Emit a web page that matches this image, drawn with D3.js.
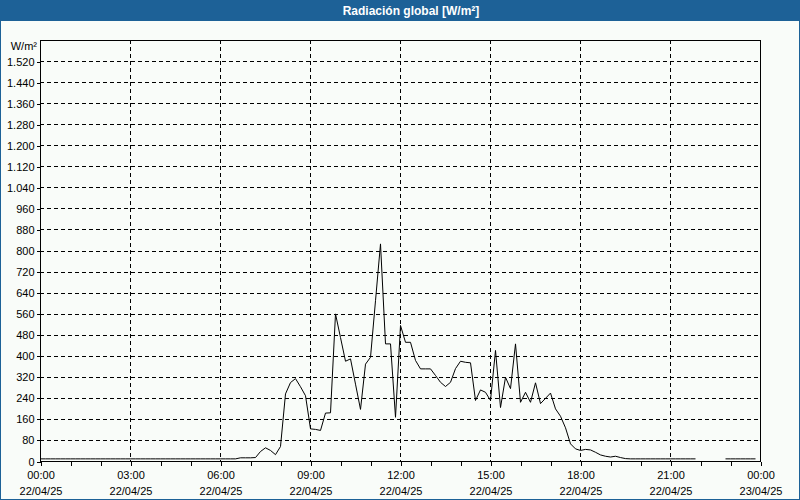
<!DOCTYPE html>
<html>
<head>
<meta charset="utf-8">
<script src="https://cdn.jsdelivr.net/npm/d3@7"></script>
<style>
  html, body { margin: 0; padding: 0; background: #f9fcf9; }
  svg { display: block; }
  text { font-family: "Liberation Sans", Arial, sans-serif; }
</style>
</head>
<body>
<svg id="chart" width="800" height="500"></svg>
<script>
// ---- Data ----
const chartTitle = "Radiación global [W/m²]";
const unitLabel = "W/m²";
const startTime = "2025-04-22T00:00:00";
const endTime = "2025-04-23T00:00:00";
const stepMinutes = 10;
// Global radiation, W/m², one value every 10 minutes (null = no data)
const radiation = [
  10, 10, 10, 10, 10, 10,   // 00:00
  10, 10, 10, 10, 10, 10,   // 01:00
  10, 10, 10, 10, 10, 10,   // 02:00
  10, 10, 10, 10, 10, 10,   // 03:00
  10, 10, 10, 10, 10, 10,   // 04:00
  10, 10, 10, 10, 10, 10,   // 05:00
  10, 10, 10, 10, 14, 14,   // 06:00
  14, 15, 38, 52, 42, 26,   // 07:00
  57, 257, 300, 315, 284, 250, // 08:00
  124, 122, 118, 184, 185, 561, // 09:00
  471, 381, 390, 294, 198, 370, // 10:00
  396, 611, 827, 447, 447, 168, // 11:00
  517, 453, 453, 384, 352, 352, // 12:00
  352, 327, 301, 285, 301, 353, // 13:00
  381, 377, 375, 232, 272, 263, // 14:00
  232, 422, 205, 320, 277, 447, // 15:00
  225, 263, 225, 299, 220, 240, // 16:00
  260, 200, 172, 128, 67, 48,   // 17:00
  42, 46, 44, 35, 25, 20,       // 18:00
  17, 20, 15, 11, 10, 10,       // 19:00
  10, 10, 10, 10, 10, 10,       // 20:00
  10, 10, 10, 10, 10, 10,       // 21:00
  null, null, null, null, null, 10, // 22:00
  10, 10, 10, 10, 10, 10        // 23:00
];
const yTickValues = [0, 80, 160, 240, 320, 400, 480, 560, 640, 720, 800, 880, 960,
  1040, 1120, 1200, 1280, 1360, 1440, 1520];
const yMax = 1600;
const xLabelHours = [0, 3, 6, 9, 12, 15, 18, 21, 24];

// ---- Layout ----
const W = 800, H = 500;
const mLeft = 40, mRight = 760, mTop = 40, mBottom = 461;
const blue = "#1d6197";

const svg = d3.select("#chart");
const parse = d3.timeParse("%Y-%m-%dT%H:%M:%S");
const t0 = parse(startTime), t1 = parse(endTime);

const series = radiation.map((v, i) => ({ t: d3.timeMinute.offset(t0, i * stepMinutes), v }));

const x = d3.scaleTime().domain([t0, t1]).range([mLeft, mRight]);
const y = d3.scaleLinear().domain([0, yMax]).range([mBottom, mTop]);

// background + window frame
svg.append("rect").attr("x", 0).attr("y", 0).attr("width", W).attr("height", H).attr("fill", "#f9fcf9");
svg.append("rect").attr("x", 0).attr("y", 0).attr("width", W).attr("height", 21).attr("fill", blue);
svg.append("rect").attr("x", 0.5).attr("y", 0.5).attr("width", W - 1).attr("height", H - 1)
  .attr("fill", "none").attr("stroke", blue).attr("stroke-width", 1);
svg.append("text").attr("x", 411).attr("y", 15).attr("text-anchor", "middle")
  .attr("fill", "#ffffff").attr("font-size", 12).attr("font-weight", "bold").text(chartTitle);

// grid lines
const grid = svg.append("g").attr("stroke", "#000").attr("stroke-width", 1)
  .attr("stroke-dasharray", "4,3").attr("shape-rendering", "crispEdges");
grid.selectAll("line.h").data(yTickValues.filter(d => d > 0)).join("line")
  .attr("x1", mLeft).attr("x2", mRight)
  .attr("y1", d => Math.round(y(d)) + 0.5).attr("y2", d => Math.round(y(d)) + 0.5);
const vHours = xLabelHours.filter(h => h > 0 && h < 24).map(h => d3.timeHour.offset(t0, h));
grid.selectAll("line.v").data(vHours).join("line")
  .attr("y1", mTop).attr("y2", mBottom)
  .attr("x1", d => Math.round(x(d)) + 0.5).attr("x2", d => Math.round(x(d)) + 0.5);

// Y axis
const yAxis = d3.axisLeft(y).tickValues(yTickValues).tickSize(4).tickPadding(2)
  .tickFormat(d => d3.format(",")(d).replace(/,/g, "."));
const gy = svg.append("g").attr("transform", `translate(${mLeft + 0.5},0.5)`).call(yAxis);
gy.select(".domain").remove();
gy.selectAll("line").attr("stroke", "#000").attr("shape-rendering", "crispEdges");
gy.selectAll("text").attr("font-size", 11).attr("fill", "#000")
  .attr("font-family", "'Liberation Sans', Arial, sans-serif");

// X axis (hourly ticks)
const hourTicks = d3.timeHour.range(t0, d3.timeMinute.offset(t1, 1));
const xAxis = d3.axisBottom(x).tickValues(hourTicks).tickSize(4).tickFormat("");
const gx = svg.append("g").attr("transform", `translate(0.5,${mBottom + 0.5})`).call(xAxis);
gx.select(".domain").remove();
gx.selectAll("line").attr("stroke", "#000").attr("shape-rendering", "crispEdges");

const labelTimes = xLabelHours.map(h => d3.timeHour.offset(t0, h));
const fTime = d3.timeFormat("%H:%M"), fDate = d3.timeFormat("%d/%m/%y");
const xl = svg.append("g").attr("font-size", 11).attr("fill", "#000").attr("text-anchor", "middle");
xl.selectAll("text.t").data(labelTimes).join("text")
  .attr("x", d => x(d) + 1).attr("y", 479).text(d => fTime(d));
xl.selectAll("text.d").data(labelTimes).join("text")
  .attr("x", d => x(d) + 1).attr("y", 495).text(d => fDate(d));

// plot frame
svg.append("rect").attr("x", mLeft + 0.5).attr("y", mTop + 0.5)
  .attr("width", mRight - mLeft).attr("height", mBottom - mTop)
  .attr("fill", "none").attr("stroke", "#000").attr("shape-rendering", "crispEdges");

// unit label
svg.append("text").attr("x", 37).attr("y", 50).attr("text-anchor", "end")
  .attr("font-size", 11).attr("fill", "#000").text(unitLabel);

// data line
const line = d3.line().defined(d => d.v !== null).x(d => x(d.t)).y(d => y(d.v));
svg.append("path").datum(series).attr("d", line)
  .attr("fill", "none").attr("stroke", "#000").attr("stroke-width", 1)
  .attr("transform", "translate(0.5,0.5)");
</script>
</body>
</html>
